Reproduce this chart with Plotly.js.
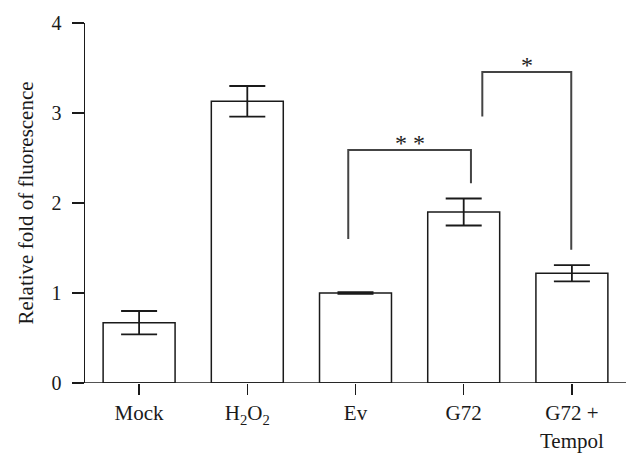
<!DOCTYPE html>
<html>
<head>
<meta charset="utf-8">
<script src="https://cdn.plot.ly/plotly-3.0.1.min.js"></script>
<style>html,body{margin:0;padding:0;background:#fff;}</style>
</head>
<body>
<div id="chart" style="width:638px;height:456px;"></div>
<script>
// Data
const categories = ["Mock", "H<sub>2</sub>O<sub>2</sub>", "Ev", "G72", "G72 +<br>Tempol"];
const values = [0.67, 3.13, 1.00, 1.90, 1.22];
const errors = [0.13, 0.17, 0.01, 0.15, 0.09];
const yTicks = [0, 1, 2, 3, 4];
// Significance brackets: category indices, heights (data units), label
const bracketFrom = [2, 3];
const bracketTo = [3, 4];
const bracketLeftY = [1.60, 2.96];
const bracketRightY = [2.22, 1.48];
const bracketTopY = [2.59, 3.455];
const bracketLabels = ["* *", "*"];

const xIdx = categories.map((c, i) => i);
const traces = [{
  type: 'bar',
  x: xIdx,
  y: values,
  width: 0.665,
  marker: {color: '#ffffff', line: {color: '#1a1a1a', width: 1.5}},
  error_y: {type: 'data', array: errors, visible: true, color: '#1a1a1a', thickness: 1.8, width: 18},
  hoverinfo: 'none'
}];

const shapes = [{
  type: 'line', xref: 'paper', yref: 'y', x0: -12/541, x1: 1, y0: 0, y1: 0,
  line: {color: '#1a1a1a', width: 1.5}
}];
const annotations = [];
for (let i = 0; i < bracketFrom.length; i++) {
  const xl2 = i === 0 ? bracketFrom[i] - 0.067 : bracketFrom[i] + 0.172;
  const xr2 = i === 0 ? bracketTo[i] + 0.067 : bracketTo[i] - 0.006;
  shapes.push({
    type: 'path', xref: 'x', yref: 'y',
    path: `M ${xl2} ${bracketLeftY[i]} L ${xl2} ${bracketTopY[i]} L ${xr2} ${bracketTopY[i]} L ${xr2} ${bracketRightY[i]}`,
    line: {color: '#444444', width: 2}
  });
  annotations.push({
    x: (xl2 + xr2) / 2, y: bracketTopY[i], xref: 'x', yref: 'y',
    text: bracketLabels[i], showarrow: false, yanchor: 'bottom', yshift: -8,
    font: {family: 'Liberation Serif, serif', size: 24, color: '#222'}
  });
}

const layout = {
  width: 638, height: 456,
  margin: {l: 85, r: 12, t: 23, b: 73},
  paper_bgcolor: '#fff', plot_bgcolor: '#fff',
  showlegend: false,
  font: {family: 'Liberation Serif, serif', size: 21, color: '#1a1a1a'},
  xaxis: {
    range: [-0.5, 4.5], tickmode: 'array', tickvals: xIdx, ticktext: categories,
    showline: false, showgrid: false, zeroline: false,
    ticks: 'outside', ticklen: 11, tickwidth: 1.5, tickcolor: '#1a1a1a',
    ticklabelstandoff: 0,
    tickfont: {family: 'Liberation Serif, serif', size: 21, color: '#1a1a1a'},
    fixedrange: true
  },
  yaxis: {
    range: [0, 4], tickmode: 'array', tickvals: yTicks,
    showline: true, linecolor: '#1a1a1a', linewidth: 1.5,
    showgrid: false, zeroline: false,
    ticks: 'outside', ticklen: 12, tickwidth: 1.5, tickcolor: '#1a1a1a',
    ticklabelstandoff: 6,
    tickfont: {family: 'Liberation Serif, serif', size: 20, color: '#1a1a1a'},
    title: {text: 'Relative fold of fluorescence', standoff: 12,
            font: {family: 'Liberation Serif, serif', size: 21, color: '#1a1a1a'}},
    fixedrange: true
  },
  shapes: shapes,
  annotations: annotations
};

Plotly.newPlot('chart', traces, layout, {displayModeBar: false, staticPlot: true});
</script>
</body>
</html>
